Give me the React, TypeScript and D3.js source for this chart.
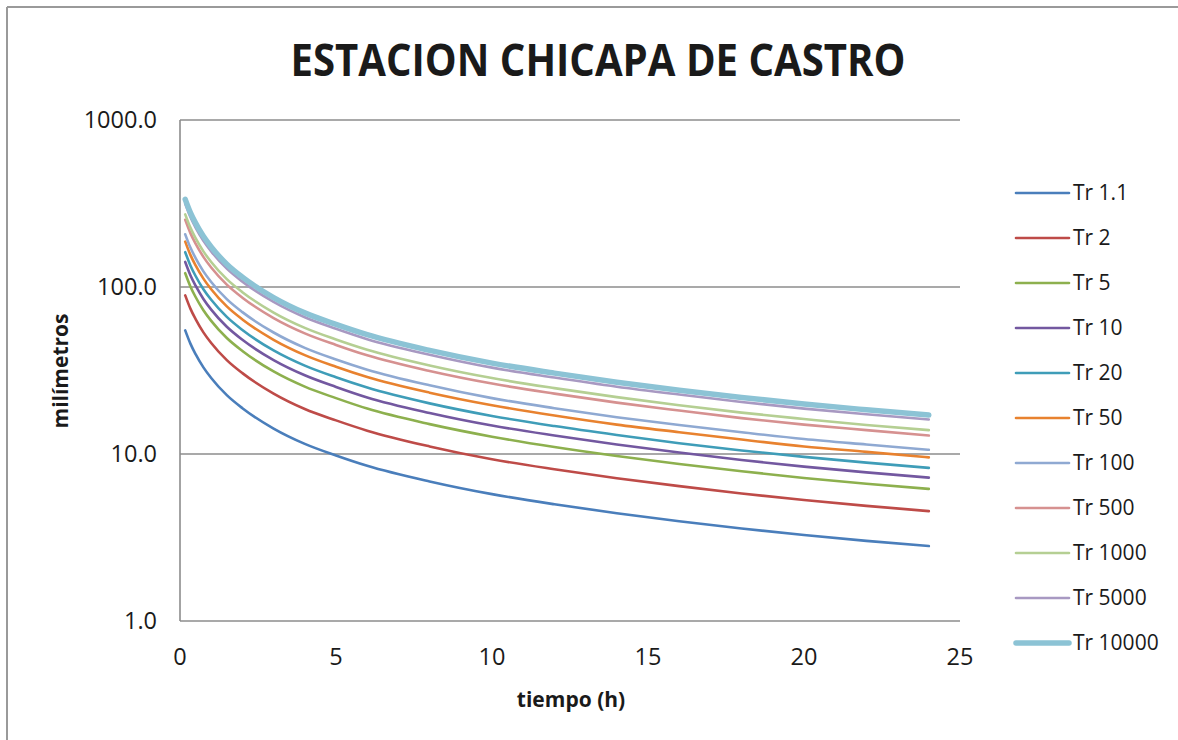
import React from "react";
import * as d3 from "d3";

const times = [0.167, 0.333, 0.5, 0.75, 1, 1.5, 2, 3, 4, 5, 6, 8, 10, 12, 14, 16, 18, 20, 22, 24];

const tr1_1 = [55.0, 45.8, 39.6, 33.0, 28.5, 22.5, 18.8, 14.2, 11.5, 9.8, 8.5, 6.85, 5.75, 5.0, 4.42, 3.96, 3.58, 3.27, 3.02, 2.81];
const tr2 = [89.1, 74.2, 64.2, 53.5, 46.2, 36.5, 30.5, 23.0, 18.6, 15.9, 13.8, 11.1, 9.3, 8.1, 7.16, 6.42, 5.8, 5.3, 4.89, 4.55];
const tr5 = [121.0, 100.8, 87.1, 72.6, 62.7, 49.5, 41.4, 31.2, 25.3, 21.6, 18.7, 15.1, 12.7, 11.0, 9.72, 8.71, 7.88, 7.19, 6.64, 6.18];
const tr10 = [141.4, 117.7, 101.8, 84.8, 73.2, 57.8, 48.3, 36.5, 29.6, 25.2, 21.8, 17.6, 14.8, 12.9, 11.4, 10.2, 9.2, 8.4, 7.76, 7.22];
const tr20 = [161.7, 134.7, 116.4, 97.0, 83.8, 66.2, 55.3, 41.7, 33.8, 28.8, 25.0, 20.1, 16.9, 14.7, 13.0, 11.6, 10.5, 9.61, 8.88, 8.26];
const tr50 = [187.0, 155.7, 134.6, 112.2, 96.9, 76.5, 63.9, 48.3, 39.1, 33.3, 28.9, 23.3, 19.6, 17.0, 15.0, 13.5, 12.2, 11.1, 10.3, 9.55];
const tr100 = [206.8, 172.2, 148.9, 124.1, 107.2, 84.6, 70.7, 53.4, 43.2, 36.8, 32.0, 25.8, 21.6, 18.8, 16.6, 14.9, 13.5, 12.3, 11.4, 10.6];
const tr500 = [252.5, 210.2, 181.8, 151.5, 130.8, 103.3, 86.3, 65.2, 52.8, 45.0, 39.0, 31.4, 26.4, 23.0, 20.3, 18.2, 16.4, 15.0, 13.9, 12.9];
const tr1000 = [272.3, 226.7, 196.0, 163.4, 141.1, 111.4, 93.1, 70.3, 56.9, 48.5, 42.1, 33.9, 28.5, 24.8, 21.9, 19.6, 17.7, 16.2, 14.9, 13.9];
const tr5000 = [315.2, 262.4, 226.9, 189.1, 163.3, 128.9, 107.7, 81.4, 65.9, 56.2, 48.7, 39.3, 32.9, 28.7, 25.3, 22.7, 20.5, 18.7, 17.3, 16.1];
const tr10000 = [335.0, 278.9, 241.2, 201.0, 173.6, 137.0, 114.5, 86.5, 70.0, 59.7, 51.8, 41.7, 35.0, 30.5, 26.9, 24.1, 21.8, 19.9, 18.4, 17.1];

const seriesNames = ["Tr 1.1", "Tr 2", "Tr 5", "Tr 10", "Tr 20", "Tr 50", "Tr 100", "Tr 500", "Tr 1000", "Tr 5000", "Tr 10000"];
const seriesValues = [tr1_1, tr2, tr5, tr10, tr20, tr50, tr100, tr500, tr1000, tr5000, tr10000];
const seriesColors = ["#4A7EBB", "#BE4B48", "#8DB04E", "#7358A0", "#3F9DB8", "#E8822F", "#8FA9D2", "#D69190", "#B5CF93", "#A899C2", "#8CC3D5"];

const yTicks = [1, 10, 100, 1000];
const xTicks = [0, 5, 10, 15, 20, 25];

const title = "ESTACION CHICAPA DE CASTRO";
const xTitle = "tiempo (h)";
const yTitle = "milímetros";

export default function App() {
  const x = d3.scaleLinear().domain([0, 25]).range([180, 960]);
  const y = d3.scaleLog().domain([1, 1000]).range([621, 120]);
  const fmt = d3.format(".1f");
  const line = d3
    .line<[number, number]>()
    .x((d) => x(d[0]))
    .y((d) => y(d[1]))
    .curve(d3.curveMonotoneX);

  const font = "'Open Sans', 'DejaVu Sans', sans-serif";

  return (
    <svg
      width={1178}
      height={740}
      style={{ position: "absolute", left: 0, top: 0, background: "#fff" }}
      fontFamily={font}
    >
      <rect x={0} y={0} width={1178} height={740} fill="#fff" />
      {/* chart frame */}
      <line x1={7} y1={7} x2={1178} y2={7} stroke="#9a9a9a" strokeWidth={2} />
      <line x1={7} y1={7} x2={7} y2={740} stroke="#9a9a9a" strokeWidth={2} />

      <text
        x={598}
        y={76}
        textAnchor="middle"
        fontSize={44}
        fontWeight="bold"
        fill="#1a1a1a"
        textLength={615}
        lengthAdjust="spacingAndGlyphs"
      >
        {title}
      </text>

      {/* gridlines */}
      {yTicks.map((t) => (
        <line key={"g" + t} x1={180} x2={960} y1={y(t)} y2={y(t)} stroke="#8c8c8c" strokeWidth={1.6} />
      ))}
      <line x1={180} x2={180} y1={120} y2={621} stroke="#8c8c8c" strokeWidth={1.6} />

      {/* y tick labels */}
      {yTicks.map((t) => (
        <text key={"yl" + t} x={157} y={y(t)} dy="0.35em" textAnchor="end" fontSize={23.5} fill="#1a1a1a">
          {fmt(t)}
        </text>
      ))}
      {/* x tick labels */}
      {xTicks.map((t) => (
        <text key={"xl" + t} x={x(t)} y={665} textAnchor="middle" fontSize={23.5} fill="#1a1a1a">
          {t}
        </text>
      ))}

      <text x={571} y={707} textAnchor="middle" fontSize={21} fontWeight="bold" fill="#1a1a1a">
        {xTitle}
      </text>
      <text
        transform="translate(68,371) rotate(-90)"
        textAnchor="middle"
        fontSize={21}
        fontWeight="bold"
        fill="#1a1a1a"
      >
        {yTitle}
      </text>

      {/* series */}
      {seriesValues.map((vals, i) => (
        <path
          key={"s" + i}
          d={line(times.map((t, j) => [t, vals[j]] as [number, number])) || ""}
          fill="none"
          stroke={seriesColors[i]}
          strokeWidth={i === seriesValues.length - 1 ? 5.5 : 2.6}
          strokeLinecap="round"
          strokeLinejoin="round"
        />
      ))}

      {/* legend */}
      {seriesNames.map((name, i) => {
        const ly = 193 + i * 45;
        return (
          <g key={"lg" + i}>
            <line
              x1={1016}
              x2={1069}
              y1={ly}
              y2={ly}
              stroke={seriesColors[i]}
              strokeWidth={i === seriesNames.length - 1 ? 5.5 : 2.6}
              strokeLinecap="round"
            />
            <text x={1073} y={ly} dy="0.35em" fontSize={21} fill="#1a1a1a">
              {name}
            </text>
          </g>
        );
      })}
    </svg>
  );
}
